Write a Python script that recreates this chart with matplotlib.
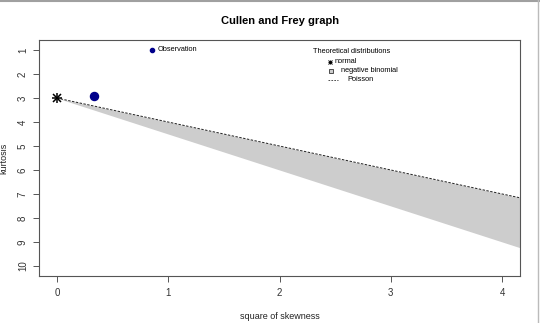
import matplotlib
matplotlib.use("Agg")
import matplotlib.pyplot as plt
from matplotlib.lines import Line2D

plt.rcParams["font.family"] = ["Liberation Sans", "DejaVu Sans"]

# observed moments
obs_skew2 = [0.33]
obs_kurt = [2.93]

# theoretical reference point / boundaries (square of skewness vs kurtosis)
normal_skew2 = [0.0]
normal_kurt = [3.0]
bound_skew2 = [0.0, 4.2]
poisson_kurt = [3.0, 7.2]
negbin_kurt = [3.0, 9.3]

xticks = [0, 1, 2, 3, 4]
yticks = [1, 2, 3, 4, 5, 6, 7, 8, 9, 10]

W, H = 540, 323
fig = plt.figure(figsize=(W / 100, H / 100), dpi=100)
ax = fig.add_axes([39 / W, 1 - 276 / H, 481 / W, 236 / H])

ax.fill_between(bound_skew2, poisson_kurt, negbin_kurt, color="#cdcdcd", lw=0)
ax.plot(bound_skew2, poisson_kurt, color="#222222", ls=(0, (2.5, 1.5)), lw=0.7)

ax.plot(normal_skew2, normal_kurt, marker="+", ms=7, mew=1.1, color="black", ls="none")
ax.plot(normal_skew2, normal_kurt, marker="x", ms=5.5, mew=1.1, color="black", ls="none")
ax.plot(obs_skew2, obs_kurt, marker="o", ms=5.8, color="#00008B", ls="none")

ax.set_xlim(-0.16, 4.16)
ax.set_ylim(10.42, 0.58)
ax.set_xticks(xticks)
ax.set_yticks(yticks)
ax.set_xticklabels([str(t) for t in xticks])
ax.set_yticklabels([str(t) for t in yticks], rotation=90, va="center")
ax.tick_params(length=4, width=0.7, color="#555555", labelsize=7,
               labelcolor="#333333")
ax.tick_params(axis="x", pad=5)
ax.tick_params(axis="y", pad=4)
for s in ax.spines.values():
    s.set_color("#555555")
    s.set_linewidth(0.8)

ax.set_xlabel("square of skewness", fontsize=6.5, color="#222222", labelpad=10)
ax.set_ylabel("kurtosis", fontsize=6.5, color="#222222", labelpad=7)
fig.text(280 / W, 1 - 21 / H, "Cullen and Frey graph", fontsize=8,
         fontweight="bold", ha="center", va="center")

# legends drawn in axes fraction coordinates
tr = ax.transAxes
lfs = 5.3
ax.plot([0.235], [0.958], marker="o", ms=3, color="#00008B", transform=tr, clip_on=False)
ax.text(0.246, 0.958, "Observation", fontsize=lfs, va="center", transform=tr)

ax.text(0.570, 0.953, "Theoretical distributions", fontsize=lfs, va="center", transform=tr)
ax.plot([0.605], [0.907], marker="+", ms=3, mew=0.7, color="black", transform=tr)
ax.plot([0.605], [0.907], marker="x", ms=2.4, mew=0.7, color="black", transform=tr)
ax.text(0.615, 0.907, "normal", fontsize=lfs, va="center", transform=tr)
ax.plot([0.607], [0.869], marker="s", ms=3.2, mfc="#cdcdcd", mec="#333333", mew=0.6,
        transform=tr)
ax.text(0.627, 0.869, "negative binomial", fontsize=lfs, va="center", transform=tr)
ax.add_line(Line2D([0.600, 0.622], [0.831, 0.831], color="#333333", lw=0.6,
                   ls=(0, (2, 1.5)), transform=tr))
ax.text(0.641, 0.831, "Poisson", fontsize=lfs, va="center", transform=tr)

# outer frame lines along top and right edge
fig.add_artist(Line2D([0, 1], [1 - 1 / H, 1 - 1 / H], color="#a0a0a0", lw=1.5,
                      transform=fig.transFigure))
fig.add_artist(Line2D([537.5 / W, 537.5 / W], [0, 1], color="#bbbbbb", lw=1.0,
                      transform=fig.transFigure))

fig.savefig("out.png", dpi=100)
